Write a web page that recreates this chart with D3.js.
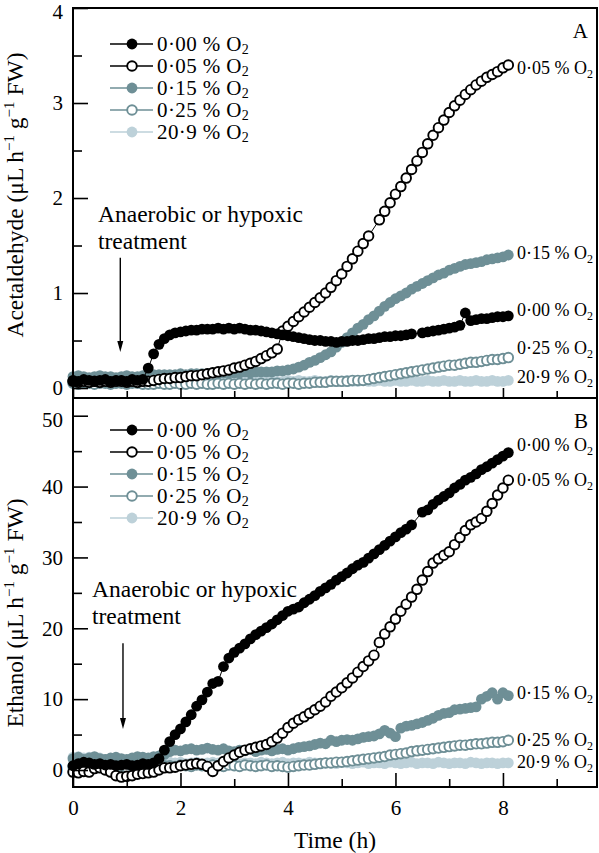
<!DOCTYPE html>
<html><head><meta charset="utf-8">
<script src="https://cdn.jsdelivr.net/npm/d3@7"></script>
<style>body{margin:0;background:#fff;} svg{display:block;} text{font-family:"Liberation Serif","Times New Roman",serif;fill:#000;}</style>
</head><body><svg id="c" width="599" height="853"></svg>
<script>
// ---------------- DATA ----------------
const times = [0,0.1,0.2,0.3,0.4,0.5,0.6,0.7,0.8,0.9,1,1.1,1.2,1.3,1.4,1.5,1.6,1.7,1.8,1.9,2,2.1,2.2,2.3,2.4,2.5,2.6,2.7,2.8,2.9,3,3.1,3.2,3.3,3.4,3.5,3.6,3.7,3.8,3.9,4,4.1,4.2,4.3,4.4,4.5,4.6,4.7,4.8,4.9,5,5.1,5.2,5.3,5.4,5.5,5.6,5.7,5.8,5.9,6,6.1,6.2,6.3,6.4,6.5,6.6,6.7,6.8,6.9,7,7.1,7.2,7.3,7.4,7.5,7.6,7.7,7.8,7.9,8,8.1];
const seriesNames = ["0·00","0·05","0·15","0·25","20·9"];

// Panel A: acetaldehyde (µL h-1 g-1 FW)
const acet000 = [0.08,0.07,0.09,0.08,0.07,0.08,0.09,0.07,0.08,0.08,0.07,0.09,0.08,0.09,
0.21,0.36,0.46,0.52,0.56,0.58,0.59,0.60,0.61,0.61,
0.62,0.62,0.62,0.63,0.62,0.63,0.62,0.63,0.62,0.61,
0.61,0.60,0.59,0.58,0.57,0.56,0.55,0.54,0.53,0.52,
0.51,0.50,0.50,0.49,0.49,0.48,0.49,0.49,0.50,0.50,
0.51,0.52,0.52,0.53,0.54,0.54,0.55,0.55,0.56,0.57,
null,0.58,0.59,0.60,0.61,0.62,0.63,0.64,0.66,0.79,
0.71,0.72,0.73,0.73,0.74,0.75,0.75,0.76];
const acet005 = [0.07,0.06,0.07,0.06,0.07,0.06,0.07,0.06,0.07,0.07,0.06,0.07,0.06,0.07,
0.07,0.08,0.09,0.10,0.10,0.11,0.11,0.12,0.13,0.13,
0.14,0.15,0.16,0.17,0.18,0.19,0.21,0.22,0.24,0.26,
0.28,0.31,0.34,0.37,0.41,0.60,0.65,0.70,0.75,0.80,
0.85,0.90,0.95,1.00,1.06,1.13,1.20,1.28,1.36,1.44,
1.52,1.60,null,1.77,1.86,1.95,2.04,2.12,2.21,2.30,
2.39,2.48,2.57,2.66,2.74,2.82,2.90,2.97,3.03,3.09,
3.14,3.19,3.23,3.27,3.30,3.33,3.37,3.40];
const acet015 = [0.12,0.13,0.12,0.11,0.12,0.13,0.12,0.12,0.11,0.12,0.13,0.12,0.12,0.13,
0.13,0.14,0.14,0.14,0.14,0.14,0.15,0.14,0.15,0.15,
0.15,0.15,0.16,0.15,0.16,0.16,0.16,0.16,0.17,0.16,
0.17,0.17,0.17,0.17,0.18,0.18,0.19,0.20,0.22,0.24,
0.27,0.29,0.32,0.35,0.38,0.43,0.48,0.53,0.58,0.63,
0.67,0.72,0.76,0.81,0.86,0.90,0.94,0.97,1.00,1.04,
1.07,1.10,1.13,1.16,1.19,1.21,1.24,1.26,1.28,1.30,
1.31,1.32,1.33,1.35,1.36,1.37,1.38,1.40];
const acet025 = [0.05,0.04,0.05,0.05,0.04,0.05,0.05,0.04,0.05,0.05,0.04,0.05,0.05,0.04,
0.04,0.04,0.05,0.04,0.04,0.05,0.04,0.04,0.05,0.04,
0.05,0.04,0.04,0.05,0.04,0.05,0.04,0.05,0.04,0.05,
0.04,0.05,0.04,0.05,0.05,0.04,0.05,0.05,0.04,0.05,
0.05,0.06,0.06,0.06,0.07,0.07,0.07,0.07,0.08,0.08,
0.08,0.09,0.10,0.11,0.12,0.13,0.14,0.15,0.16,0.17,
0.18,0.19,0.20,0.21,0.22,0.23,0.24,0.24,0.25,0.26,
0.27,0.27,0.28,0.29,0.30,0.30,0.31,0.32];
const acet209 = [0.09,0.10,0.09,0.10,0.09,0.10,0.09,0.09,0.10,0.09,0.09,0.10,0.09,0.09,
0.08,0.08,0.09,0.08,0.08,0.07,0.08,0.08,0.07,0.08,
0.08,0.07,0.08,0.07,0.08,0.08,0.07,0.08,0.07,0.08,
0.07,0.08,0.07,0.08,0.07,0.07,0.08,0.07,0.08,0.07,
0.07,0.08,0.07,0.07,0.08,0.07,0.07,0.08,0.07,0.07,
0.08,0.07,0.07,0.08,0.07,0.07,0.08,0.07,0.07,0.08,
0.07,0.07,0.08,0.07,0.07,0.08,0.07,0.07,0.08,0.07,
0.07,0.08,0.07,0.07,0.08,0.07,0.07,0.08];

// Panel B: ethanol (µL h-1 g-1 FW)
const eth000 = [0.6,0.9,1.1,1.0,0.8,0.9,0.7,0.8,0.6,0.7,0.8,0.6,0.7,0.9,0.8,1.0,
1.6,2.8,4.0,5.0,
5.8,6.8,7.8,9.0,9.9,11.0,12.2,12.5,14.6,15.8,
16.6,17.2,17.8,18.5,19.1,19.6,20.1,20.6,21.2,21.8,
22.4,22.7,23.0,23.6,24.1,24.6,25.2,25.7,26.2,26.8,
27.3,27.8,28.4,28.9,29.3,29.9,30.5,31.1,31.7,32.3,
32.9,33.5,34.0,34.6,null,36.4,36.7,37.5,38.1,38.6,
39.1,39.8,40.3,40.9,41.3,41.8,42.4,42.8,43.3,43.8,
44.3,44.8];
const eth005 = [-0.3,-0.4,-0.2,-0.3,0.2,0.3,0.0,-0.3,-0.8,-1.0,
-0.9,-0.8,-0.6,-0.5,-0.4,-0.3,0.0,0.3,0.3,0.4,
0.6,0.7,0.8,0.9,0.8,0.5,-0.2,0.6,1.2,1.7,
2.1,2.5,2.8,3.0,3.2,3.4,3.6,4.0,4.5,5.2,
6.0,6.6,7.1,7.5,8.0,8.5,9.0,9.6,10.4,11.0,
11.6,12.3,13.0,13.8,14.6,15.4,16.2,18.0,19.2,20.2,
21.3,22.4,23.4,24.4,25.5,26.8,28.0,29.2,29.8,30.3,
30.8,31.8,32.8,33.8,34.6,35.0,35.5,36.5,37.6,38.8,
39.8,40.9];
const eth015 = [1.6,1.8,1.5,1.7,1.9,1.6,1.5,1.7,1.8,1.6,
1.5,1.7,1.9,1.8,1.7,1.9,2.0,2.2,2.6,2.8,
2.7,2.9,3.0,2.8,2.9,3.1,2.9,2.8,3.0,2.7,
2.6,2.8,2.7,2.9,2.6,2.8,2.9,2.7,2.9,3.0,
2.8,3.0,3.2,3.3,3.4,3.6,3.8,3.7,4.2,4.0,
4.2,4.3,4.2,4.4,4.6,4.7,4.8,5.1,5.6,5.2,
4.7,5.9,6.2,6.3,6.5,6.7,7.0,7.3,7.7,8.0,
8.1,8.5,8.6,8.7,8.8,8.9,10.0,10.4,10.9,10.0,
10.9,10.5];
const eth025 = [0.5,0.6,0.4,0.5,0.6,0.5,0.4,0.5,0.6,0.5,
0.4,0.5,0.6,0.5,0.5,0.6,0.5,0.6,0.6,0.5,
0.7,0.6,0.5,0.7,0.6,0.5,0.7,0.6,0.5,0.7,
0.6,0.5,0.7,0.6,0.5,0.6,0.7,0.5,0.6,0.5,
0.4,0.5,0.6,0.7,0.7,0.8,0.9,1.0,1.0,1.1,
1.1,1.2,1.3,1.4,1.5,1.6,1.7,1.8,1.9,2.1,
2.2,2.3,2.4,2.6,2.7,2.8,2.9,3.0,3.1,3.2,
3.3,3.4,3.5,3.5,3.6,3.7,3.7,3.8,3.9,3.9,
4.0,4.2];
const eth209 = [1.8,1.9,1.7,1.8,1.6,1.7,1.5,1.3,1.2,1.1,
1.2,1.0,1.1,1.2,1.0,1.1,1.0,1.2,1.1,1.0,
1.1,0.9,1.0,1.1,0.9,1.0,1.1,1.0,0.9,1.0,
1.1,0.9,1.0,1.0,0.9,1.1,1.0,0.9,1.0,1.1,
0.9,1.0,1.0,0.9,1.1,1.0,0.9,1.0,1.0,0.9,
1.1,1.0,0.9,1.0,1.1,0.9,1.0,1.0,0.9,1.1,
1.0,0.9,1.0,1.1,0.9,1.0,1.0,0.9,1.1,1.0,
0.9,1.0,1.0,0.9,1.1,1.0,0.9,1.0,1.0,0.9,
1.0,1.0];

const xTicksMajor = [0,2,4,6,8];
const xTicksMinor = [1,3,5,7,9];
const acetTicksMajor = [0,1,2,3,4];
const acetTicksMinor = [0.5,1.5,2.5,3.5];
const ethTicksMajor = [0,10,20,30,40,50];
const ethTicksMinor = [5,15,25,35,45];

// ---------------- DRAW ----------------
const FONT = '"Liberation Serif","Times New Roman",serif';
const svg = d3.select("#c");
const x = d3.scaleLinear().domain([0, 9.75]).range([73, 597]);
const yA = d3.scaleLinear().domain([-0.105, 4]).range([398, 8]);
const yE = d3.scaleLinear().domain([-2.4, 52.5]).range([787, 398]);

const seriesStyle = [
  {color:"#000000", open:false},
  {color:"#000000", open:true},
  {color:"#6e8f96", open:false},
  {color:"#6e8f96", open:true},
  {color:"#bdd1d9", open:false}
];
const drawOrder = [4,3,2,1,0];
const R_FILL = 5.4, R_OPEN = 4.8, W_OPEN = 1.9;

function drawSeries(y, arrays) {
  const g = svg.append("g");
  drawOrder.forEach(i => {
    const s = seriesStyle[i];
    const pts = times.map((t,k)=>({t:t, v:arrays[i][k]})).filter(d=>d.v!==null);
    g.append("path").datum(pts).attr("fill","none").attr("stroke",s.color).attr("stroke-width",1)
      .attr("d", d3.line().x(d=>x(d.t)).y(d=>y(d.v)));
    g.selectAll(null).data(pts).enter().append("circle")
      .attr("cx",d=>x(d.t)).attr("cy",d=>y(d.v))
      .attr("r", s.open?R_OPEN:R_FILL)
      .attr("fill", s.open?"#fff":s.color)
      .attr("stroke", s.open?s.color:"none")
      .attr("stroke-width", s.open?W_OPEN:0);
  });
}

function styleAxis(g, fs) {
  g.attr("font-family", FONT).attr("font-size", fs);
  g.select(".domain").remove();
  g.selectAll("line").attr("stroke","#000").attr("stroke-width",1.6);
  g.selectAll("text").attr("fill","#000");
}

function yAxis(y, major, minor) {
  const gM = svg.append("g").attr("transform",`translate(${x.range()[0]},0)`)
    .call(d3.axisLeft(y).tickValues(major).tickSize(-15).tickPadding(10).tickFormat(d3.format("d")));
  styleAxis(gM, 21);
  gM.selectAll(".tick").filter(d => d === d3.max(major)).select("text").attr("dy","0.5em");
  const gm = svg.append("g").attr("transform",`translate(${x.range()[0]},0)`)
    .call(d3.axisLeft(y).tickValues(minor).tickSize(-9).tickFormat(""));
  styleAxis(gm, 21);
}
function xAxis(yPos, majLen, minLen, labels) {
  const gM = svg.append("g").attr("transform",`translate(0,${yPos})`)
    .call(d3.axisBottom(x).tickValues(xTicksMajor).tickSize(-majLen).tickPadding(13)
      .tickFormat(labels ? d3.format("d") : ""));
  styleAxis(gM, 21);
  const gm = svg.append("g").attr("transform",`translate(0,${yPos})`)
    .call(d3.axisBottom(x).tickValues(xTicksMinor).tickSize(-minLen).tickFormat(""));
  styleAxis(gm, 21);
}

function legend(rows) {
  seriesNames.forEach((name,i)=>{
    const s = seriesStyle[i], yy = rows[i];
    svg.append("line").attr("x1",110).attr("x2",153).attr("y1",yy).attr("y2",yy)
      .attr("stroke",s.color).attr("stroke-width",1.6);
    svg.append("circle").attr("cx",132).attr("cy",yy).attr("r",s.open?R_OPEN:R_FILL)
      .attr("fill",s.open?"#fff":s.color).attr("stroke",s.open?s.color:"none").attr("stroke-width",W_OPEN);
    const t = svg.append("text").attr("x",157).attr("y",yy+7).attr("font-size",21).attr("letter-spacing",0.4);
    t.append("tspan").text(name+" % O");
    t.append("tspan").attr("font-size",14).attr("dy",3).text("2");
  });
}

function endLabel(name, cy) {
  const t = svg.append("text").attr("x",517).attr("y",cy+6).attr("font-size",18);
  t.append("tspan").text(name+" % O");
  t.append("tspan").attr("font-size",12).attr("dy",4).text("2");
}

function annotation(tx, base1, ax, ay1, ay2) {
  svg.append("text").attr("x",tx).attr("y",base1).attr("font-size",23.5).text("Anaerobic or hypoxic");
  svg.append("text").attr("x",tx).attr("y",base1+27).attr("font-size",23.5).text("treatment");
  svg.append("line").attr("x1",ax).attr("x2",ax).attr("y1",ay1).attr("y2",ay2-8)
    .attr("stroke","#000").attr("stroke-width",1.4);
  svg.append("path").attr("d",`M${ax},${ay2} L${ax-3},${ay2-11} L${ax+3},${ay2-11} Z`).attr("fill","#000");
}

function yTitle(cx, cy, label) {
  const t = svg.append("text").attr("transform",`translate(${cx},${cy}) rotate(-90)`)
    .attr("text-anchor","middle").attr("font-size",23.5);
  t.append("tspan").text(label+" (μL h");
  t.append("tspan").attr("font-size",15).attr("dy",-9).text("−1");
  t.append("tspan").attr("dy",9).text(" g");
  t.append("tspan").attr("font-size",15).attr("dy",-9).text("−1");
  t.append("tspan").attr("dy",9).text(" FW)");
}

// Data
drawSeries(yA, [acet000, acet005, acet015, acet025, acet209]);
drawSeries(yE, [eth000, eth005, eth015, eth025, eth209]);

// Frames
svg.append("rect").attr("x",73).attr("y",8).attr("width",524).attr("height",390)
  .attr("fill","none").attr("stroke","#000").attr("stroke-width",2);
svg.append("rect").attr("x",73).attr("y",398).attr("width",524).attr("height",389)
  .attr("fill","none").attr("stroke","#000").attr("stroke-width",2);

// Axes
yAxis(yA, acetTicksMajor, acetTicksMinor);
yAxis(yE, ethTicksMajor, ethTicksMinor);
xAxis(398, 10, 7, false);
xAxis(787, 14, 8, true);

// Legends
legend([44, 66, 88, 110, 132]);
legend([430, 452, 474, 496, 518]);

// End labels
endLabel("0·05", 68); endLabel("0·15", 253); endLabel("0·00", 310); endLabel("0·25", 348); endLabel("20·9", 377);
endLabel("0·00", 445); endLabel("0·05", 480); endLabel("0·15", 693); endLabel("0·25", 740); endLabel("20·9", 762);

// Panel letters
svg.append("text").attr("x",588).attr("y",38).attr("text-anchor","end").attr("font-size",21).text("A");
svg.append("text").attr("x",588).attr("y",428).attr("text-anchor","end").attr("font-size",21).text("B");

// Annotations
annotation(98, 222, x(0.88), yA(1.37), yA(0.38));
annotation(92, 597, x(0.93), yE(17.9), yE(5.8));

// Titles
yTitle(23, 195, "Acetaldehyde");
yTitle(23, 613, "Ethanol");
svg.append("text").attr("x",335).attr("y",848).attr("text-anchor","middle").attr("font-size",23.5).text("Time (h)");
</script></body></html>
